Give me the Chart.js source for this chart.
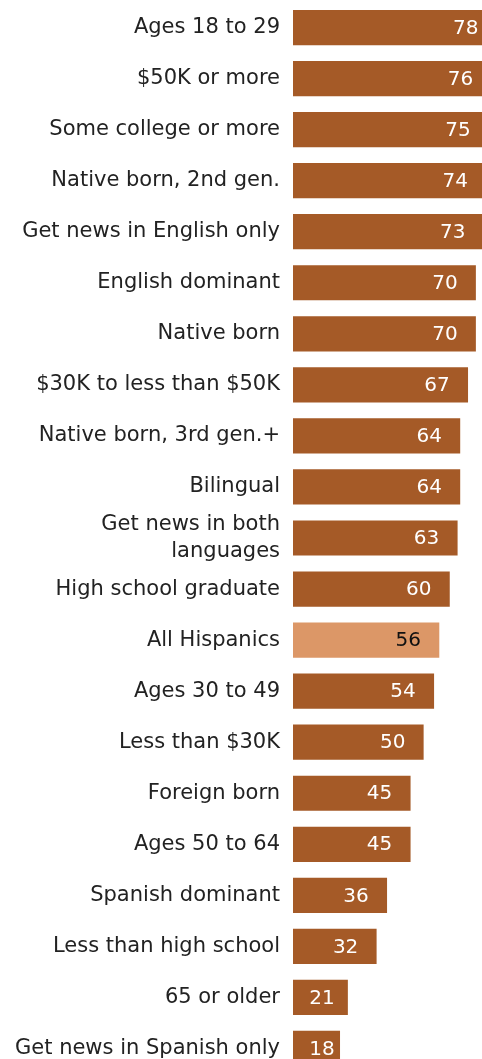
<!DOCTYPE html>
<html>
<head>
<meta charset="utf-8">
<script src="https://cdn.jsdelivr.net/npm/chart.js@4"></script>
<style>
  html, body { margin: 0; padding: 0; background: #fff; overflow: hidden; }
  #wrap { position: absolute; left: 0; top: 0; width: 502px; height: 1074px; }
</style>
</head>
<body>
<div id="wrap"><canvas id="bars" width="502" height="1074"></canvas></div>
<script>
var labels = [
    "Ages 18 to 29",
    "$50K or more",
    "Some college or more",
    "Native born, 2nd gen.",
    "Get news in English only",
    "English dominant",
    "Native born",
    "$30K to less than $50K",
    "Native born, 3rd gen.+",
    "Bilingual",
    ["Get news in both", "languages"],
    "High school graduate",
    "All Hispanics",
    "Ages 30 to 49",
    "Less than $30K",
    "Foreign born",
    "Ages 50 to 64",
    "Spanish dominant",
    "Less than high school",
    "65 or older",
    "Get news in Spanish only",
];
var values = [78, 76, 75, 74, 73, 70, 70, 67, 64, 64, 63, 60, 56, 54, 50, 45, 45, 36, 32, 21, 18];
var highlight = "All Hispanics";

var dark = '#a55a27';
var light = '#dc9767';
var colors = labels.map(function (l) { return l === highlight ? light : dark; });
var fontFamily = '"DejaVu Sans", Verdana, sans-serif';

// value printed near the end of each bar
var valueLabels = {
    id: 'valueLabels',
    afterDatasetsDraw: function (chart) {
        var ctx = chart.ctx;
        var meta = chart.getDatasetMeta(0);
        ctx.save();
        ctx.font = '20px ' + fontFamily;
        ctx.textAlign = 'center';
        ctx.textBaseline = 'middle';
        meta.data.forEach(function (bar, i) {
            var cx = Math.max(bar.x - 31, bar.base + 29);
            ctx.fillStyle = labels[i] === highlight ? '#111' : '#fff';
            ctx.fillText(values[i], cx, bar.y + 1);
        });
        ctx.restore();
    }
};

var chart = new Chart(document.getElementById('bars').getContext('2d'), {
    type: 'bar',
    data: {
        labels: labels,
        datasets: [{
            data: values,
            backgroundColor: colors,
            borderWidth: 0,
            barPercentage: 0.69,
            categoryPercentage: 1
        }]
    },
    options: {
        indexAxis: 'y',
        responsive: false,
        animation: false,
        layout: { padding: { top: 2, bottom: 0, left: 0, right: 0 } },
        plugins: {
            legend: { display: false },
            tooltip: { enabled: false }
        },
        scales: {
            x: { display: false, min: 0, max: 80 },
            y: {
                grid: { display: false, drawTicks: false },
                border: { display: false },
                ticks: {
                    color: '#222',
                    padding: 13,
                    autoSkip: false,
                    font: { family: fontFamily, size: 21, lineHeight: 1.3 }
                },
                afterFit: function (scale) {
                    scale.width = 293;
                    scale.paddingTop = 0;
                    scale.paddingBottom = 0;
                }
            }
        }
    },
    plugins: [valueLabels]
});
</script>
</body>
</html>
